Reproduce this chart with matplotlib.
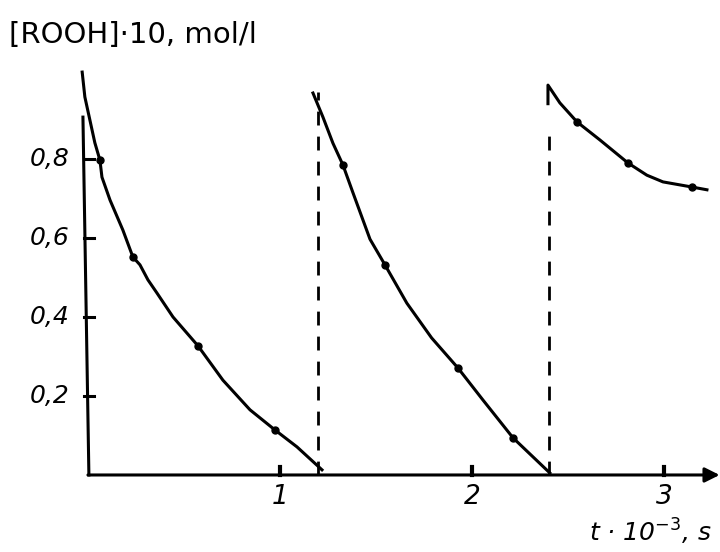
import numpy as np
import matplotlib
matplotlib.use("Agg")
import matplotlib.pyplot as plt

# curves (t in 10^3 s, [ROOH]*10 in mol/l)
t1 = [-0.03, -0.016, 0.01, 0.036, 0.0625, 0.073, 0.115, 0.182, 0.234, 0.271,
      0.3125, 0.359, 0.443, 0.573, 0.703, 0.844, 0.974, 1.089, 1.219]
c1 = [1.02, 0.957, 0.899, 0.841, 0.797, 0.754, 0.696, 0.62, 0.552, 0.532,
      0.494, 0.461, 0.40, 0.327, 0.24, 0.165, 0.114, 0.071, 0.013]
t2 = [1.172, 1.224, 1.276, 1.328, 1.38, 1.469, 1.547, 1.661, 1.79,
      1.927, 2.057, 2.214, 2.406]
c2 = [0.967, 0.906, 0.84, 0.785, 0.715, 0.597, 0.532, 0.435, 0.347,
      0.271, 0.19, 0.094, 0.005]
t3 = [2.396, 2.396, 2.458, 2.547, 2.667, 2.8125, 2.911, 2.995, 3.146, 3.224]
c3 = [0.94, 0.987, 0.942, 0.894, 0.848, 0.79, 0.759, 0.742, 0.729, 0.722]

# measured points
pt_t = [0.0625, 0.234, 0.573, 0.974, 1.328, 1.547, 1.927, 2.214, 2.547, 2.8125, 3.146]
pt_c = [0.797, 0.552, 0.327, 0.114, 0.785, 0.532, 0.271, 0.094, 0.894, 0.79, 0.729]

# dashed restart lines
dash_t = [1.2, 2.4]
dash_top = [0.97, 0.86]

xticks = [1, 2, 3]
yticks = [0.2, 0.4, 0.6, 0.8]
ylabels = ["0,2", "0,4", "0,6", "0,8"]

fig = plt.figure(figsize=(7.2, 5.52), dpi=100)
ax = fig.add_axes([0, 0, 1, 1])
ax.set_xlim(-0.458, 3.292)
ax.set_ylim(-0.195, 1.2025)
ax.axis("off")

lw = 2.2
# axes
ax.annotate("", xy=(3.29, 0), xytext=(0.0, 0),
            arrowprops=dict(arrowstyle="-|>", lw=lw, color="black",
                            mutation_scale=22, shrinkA=0, shrinkB=0))
ax.plot([0.005, -0.026], [0, 0.906], color="black", lw=lw)

for x in xticks:
    ax.plot([x, x], [0, 0.02], color="black", lw=3)
    ax.text(x, -0.055, str(x), ha="center", va="center", fontsize=19,
            style="italic")
for y, lab in zip(yticks, ylabels):
    ax.plot([-0.02, 0.03], [y, y], color="black", lw=lw)
    ax.text(-0.2, y, lab, ha="center", va="center", fontsize=18,
            style="italic")

ax.plot(t1, c1, color="black", lw=lw)
ax.plot(t2, c2, color="black", lw=lw)
ax.plot(t3, c3, color="black", lw=lw, solid_joinstyle="round")
ax.plot(pt_t, pt_c, "o", color="black", markersize=5)

for x, top in zip(dash_t, dash_top):
    ax.plot([x, x], [0, top], color="black", lw=2, ls=(0, (5, 4)))

ax.text(-0.41, 1.115, "[ROOH]·10, mol/l", ha="left", va="center",
        fontsize=21)
ax.text(2.61, -0.145, "t · 10$^{-3}$, s", ha="left", va="center",
        fontsize=18, style="italic")

fig.savefig("out.png", dpi=100)
